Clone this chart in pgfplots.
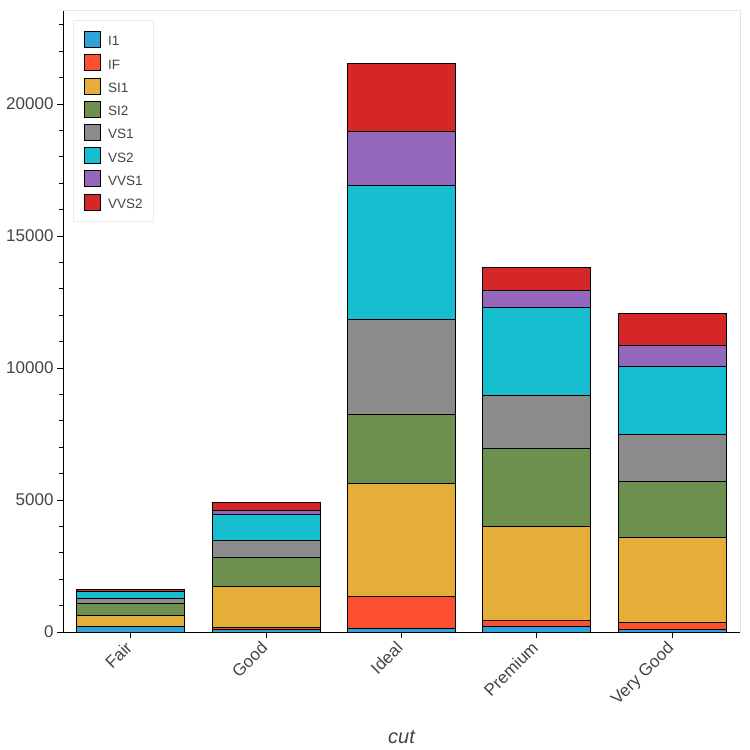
\documentclass[border=0pt]{standalone}
\usepackage{pgfplots}
\pgfplotsset{compat=1.18}
\usepackage{fontspec}
\setmainfont{Liberation Sans}
\definecolor{cIa}{HTML}{30A2DA}
\definecolor{cIF}{HTML}{FC4F30}
\definecolor{cSIa}{HTML}{E5AE38}
\definecolor{cSIb}{HTML}{6D904F}
\definecolor{cVSa}{HTML}{8B8B8B}
\definecolor{cVSb}{HTML}{17BECF}
\definecolor{cVVSa}{HTML}{9467BD}
\definecolor{cVVSb}{HTML}{D62728}
\definecolor{tickgray}{HTML}{444444}
\definecolor{framegray}{HTML}{E5E5E5}
\definecolor{leggray}{HTML}{EBEBEB}
\begin{document}
\begin{tikzpicture}
\useasboundingbox (0,0) rectangle (750bp,750bp);
\begin{axis}[
  at={(63bp,118bp)}, anchor=south west,
  scale only axis, width=677bp, height=622bp,
  ybar stacked, bar width=108bp,
  xmin=-0.5, xmax=4.5, ymin=0, ymax=23560,
  clip=false,
  axis x line*=bottom, axis y line*=left,
  axis line style={black, line width=0.9bp},
  xtick={0,1,2,3,4},
  xticklabels={Fair,Good,Ideal,Premium,Very Good},
  ytick={0,5000,10000,15000,20000},
  scaled y ticks=false,
  minor ytick={1000,2000,3000,4000,6000,7000,8000,9000,11000,12000,13000,14000,16000,17000,18000,19000,21000,22000,23000},
  tick align=outside,
  major tick length=6bp, minor tick length=4bp,
  tick style={black, line width=0.9bp},
  /pgf/number format/assume math mode=true,
  /pgf/number format/1000 sep={},
  y tick label style={font=\fontsize{17bp}{20bp}\selectfont, text=tickgray},
  x tick label style={font=\fontsize{17bp}{20bp}\selectfont, text=tickgray, rotate=45, anchor=north east, inner sep=1bp, xshift=-5bp, yshift=4bp},
  xlabel={cut},
  xlabel style={font=\itshape\fontsize{20bp}{24bp}\selectfont, text=tickgray, at={(axis description cs:0.5,0)}, anchor=base, yshift=-111bp},
  every axis plot/.append style={draw=black, line width=0.9bp,
    legend image code/.code={\draw[##1, draw=black, line width=0.9bp] (0bp,-5.5bp) rectangle (16bp,10.5bp);}},
  legend style={at={(0.0148,0.984)}, anchor=north west, draw=leggray, fill=white,
    font=\fontsize{13.5bp}{15bp}\selectfont, text=tickgray,
    inner xsep=11bp, inner ysep=11bp, row sep=6.3bp, column sep=7bp,
    cells={anchor=west}, nodes={inner sep=0pt}},
]
\draw[framegray, line width=0.9bp] (rel axis cs:0,1) -- (rel axis cs:1,1) -- (rel axis cs:1,0);
\addplot[fill=cIa] coordinates {(0,210) (1,96) (2,146) (3,205) (4,84)};
\addplot[fill=cIF] coordinates {(0,9) (1,71) (2,1212) (3,230) (4,268)};
\addplot[fill=cSIa] coordinates {(0,408) (1,1560) (2,4282) (3,3575) (4,3240)};
\addplot[fill=cSIb] coordinates {(0,466) (1,1081) (2,2598) (3,2949) (4,2100)};
\addplot[fill=cVSa] coordinates {(0,170) (1,648) (2,3589) (3,1989) (4,1775)};
\addplot[fill=cVSb] coordinates {(0,261) (1,978) (2,5071) (3,3357) (4,2591)};
\addplot[fill=cVVSa] coordinates {(0,17) (1,186) (2,2047) (3,616) (4,789)};
\addplot[fill=cVVSb] coordinates {(0,69) (1,286) (2,2606) (3,870) (4,1235)};
\legend{I1,IF,SI1,SI2,VS1,VS2,VVS1,VVS2}
\end{axis}
\end{tikzpicture}
\end{document}
